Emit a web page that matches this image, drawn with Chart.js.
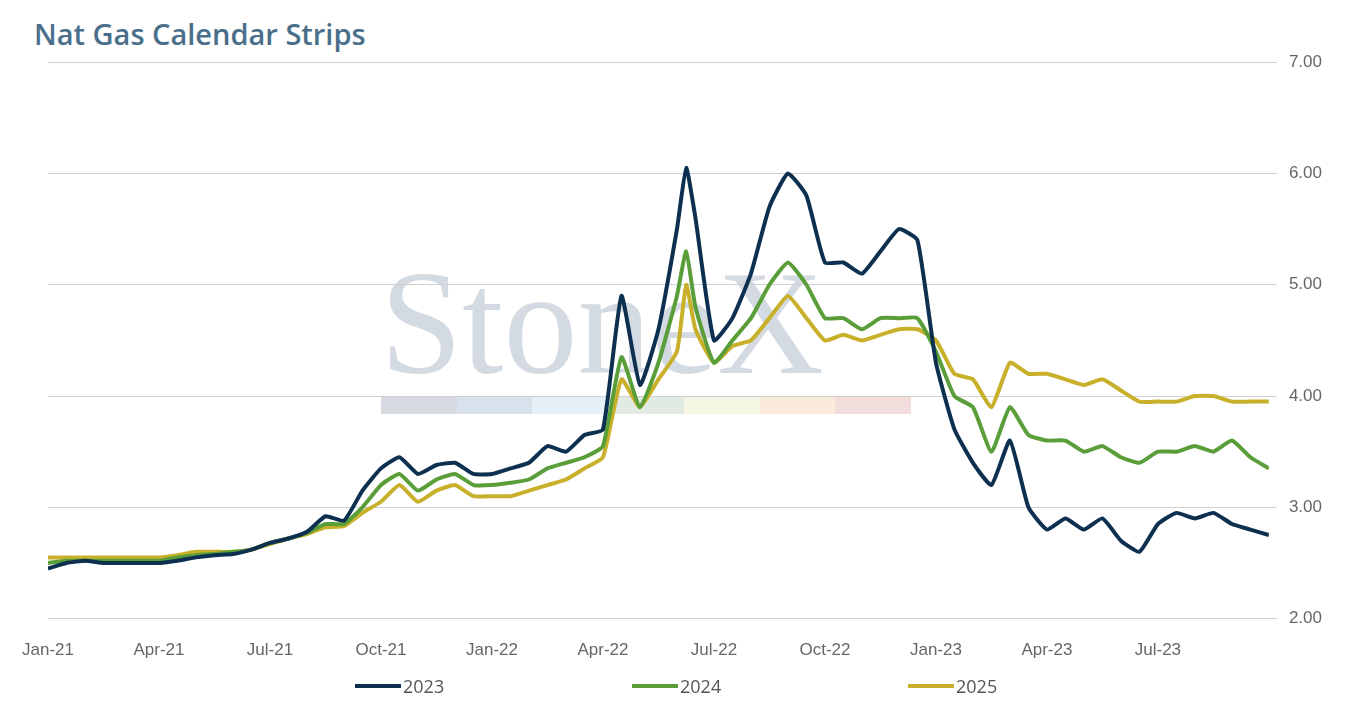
<!DOCTYPE html>
<html lang="en">
<head>
<meta charset="UTF-8">
<title>Nat Gas Calendar Strips</title>
<style>
    body { margin: 0; background: #fff; font-family: "Open Sans", Lato, sans-serif; }
    .wrap { position: relative; width: 1350px; height: 707px; }
    h1 { position: absolute; left: 34px; top: 14px; margin: 0; font-size: 29px; font-weight: 600; color: #4a6f8a; }
    .mark { position: absolute; left: 380px; top: 238px; font-family: "Liberation Serif", serif; font-size: 148px; color: rgba(170,182,198,0.5); }
    .bars { position: absolute; left: 381px; top: 396px; height: 18px; width: 530px; display: flex; opacity: 0.55; }
    .bars span { flex: 1; }
    .chart { position: absolute; left: 8px; top: 40px; width: 1342px; height: 635px; }
    .legend { position: absolute; top: 674px; left: 0; width: 1350px; font-size: 18px; color: #555; }
    .legend div { position: absolute; display: flex; align-items: center; }
    .legend i { display: inline-block; width: 46px; height: 4px; margin-right: 2px; }
</style>
</head>
<body>
<div class="wrap">
    <h1>Nat Gas Calendar Strips</h1>
    <div class="mark">StoneX</div>
    <div class="bars"><span style="background:#b8bcc8"></span><span style="background:#b9c9dd"></span><span style="background:#d3e4f2"></span><span style="background:#c9dccf"></span><span style="background:#eef0cf"></span><span style="background:#f6dcc0"></span><span style="background:#e8c0c0"></span></div>
    <div class="chart"><canvas id="c"></canvas></div>
    <div class="legend" id="legend"></div>
</div>
<script src="https://cdn.jsdelivr.net/npm/chart.js"></script>
<script>
// x = months since Jan-21
const months = [0,0.5,1,1.5,2,2.5,3,3.5,4,4.5,5,5.5,6,6.5,7,7.5,8,8.5,9,9.5,10,10.5,11,11.5,12,12.5,13,13.5,14,14.5,15,15.5,16,16.5,17,17.25,17.5,18,18.5,19,19.5,20,20.5,21,21.5,22,22.5,23,23.5,24,24.5,25,25.5,26,26.5,27,27.5,28,28.5,29,29.5,30,30.5,31,31.5,32,32.5,33];
const tickLabels = ['Jan-21','Apr-21','Jul-21','Oct-21','Jan-22','Apr-22','Jul-22','Oct-22','Jan-23','Apr-23','Jul-23'];
const s2023 = [2.45,2.50,2.52,2.50,2.50,2.50,2.50,2.52,2.55,2.57,2.58,2.62,2.68,2.72,2.78,2.92,2.88,3.15,3.35,3.45,3.30,3.38,3.40,3.30,3.30,3.35,3.40,3.55,3.50,3.65,3.70,4.90,4.10,4.60,5.50,6.05,5.60,4.50,4.70,5.10,5.70,6.00,5.80,5.20,5.20,5.10,5.30,5.50,5.40,4.30,3.70,3.40,3.20,3.60,3.00,2.80,2.90,2.80,2.90,2.70,2.60,2.85,2.95,2.90,2.95,2.85,2.80,2.75];
const s2024 = [2.50,2.52,2.52,2.52,2.52,2.52,2.52,2.55,2.57,2.58,2.60,2.62,2.68,2.72,2.77,2.85,2.85,3.00,3.20,3.30,3.15,3.25,3.30,3.20,3.20,3.22,3.25,3.35,3.40,3.45,3.55,4.35,3.90,4.30,4.90,5.30,4.80,4.30,4.50,4.70,5.00,5.20,5.00,4.70,4.70,4.60,4.70,4.70,4.70,4.40,4.00,3.90,3.50,3.90,3.65,3.60,3.60,3.50,3.55,3.45,3.40,3.50,3.50,3.55,3.50,3.60,3.45,3.35];
const s2025 = [2.55,2.55,2.55,2.55,2.55,2.55,2.55,2.57,2.60,2.60,2.60,2.62,2.67,2.72,2.76,2.82,2.83,2.95,3.05,3.20,3.05,3.15,3.20,3.10,3.10,3.10,3.15,3.20,3.25,3.35,3.45,4.15,3.90,4.15,4.40,5.00,4.60,4.30,4.45,4.50,4.70,4.90,4.70,4.50,4.55,4.50,4.55,4.60,4.60,4.50,4.20,4.15,3.90,4.30,4.20,4.20,4.15,4.10,4.15,4.05,3.95,3.95,3.95,4.00,4.00,3.95,3.95,3.95];

const series = [
    { label: '2023', data: s2023, color: '#0d3050', left: 355 },
    { label: '2024', data: s2024, color: '#5a9e3a', left: 632 },
    { label: '2025', data: s2025, color: '#c8b02a', left: 908 }
];

const legend = document.getElementById('legend');
series.forEach(s => {
    const d = document.createElement('div');
    d.style.left = s.left + 'px';
    d.innerHTML = '<i style="background:' + s.color + '"></i>' + s.label;
    legend.appendChild(d);
});

new Chart(document.getElementById('c'), {
    type: 'line',
    data: {
        datasets: series.map(s => ({
            label: s.label,
            data: months.map((m, i) => ({ x: m, y: s.data[i] })),
            borderColor: s.color, backgroundColor: s.color,
            borderWidth: 4, pointRadius: 0, tension: 0.15
        }))
    },
    options: {
        responsive: true,
        maintainAspectRatio: false,
        animation: false,
        layout: { padding: { left: 0, right: 16, top: 2 } },
        plugins: { tooltip: { enabled: false }, legend: { display: false } },
        scales: {
            x: {
                type: 'linear', min: 0, max: 33,
                grid: { display: false },
                border: { display: false },
                ticks: {
                    stepSize: 3, color: '#666', font: { size: 17 }, maxRotation: 0, padding: 14,
                    callback: v => tickLabels[v / 3] || ''
                }
            },
            y: {
                position: 'right', min: 2, max: 7,
                grid: { color: '#d0d0d0' },
                border: { display: false },
                ticks: { stepSize: 1, color: '#666', font: { size: 17 }, padding: 12, callback: v => v.toFixed(2) }
            }
        }
    }
});
</script>
</body>
</html>
